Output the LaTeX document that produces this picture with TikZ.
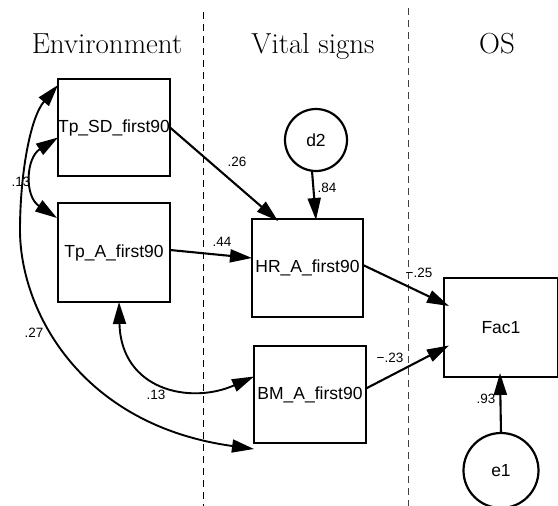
\documentclass[tikz,border=0pt]{standalone}
\usepackage{fontspec}
\newfontfamily\labelfont{Liberation Sans}
\usetikzlibrary{arrows.meta}

\begin{document}
\begin{tikzpicture}[x=1pt, y=-1pt,
  tip/.tip={Triangle[length=22pt, width=13pt]},
  var/.style={draw, line width=2.2pt, rectangle, inner sep=0pt, outer sep=0pt,
    font=\labelfont\fontsize{17.5}{19}\selectfont},
  err/.style={draw, line width=2.2pt, circle, inner sep=0pt, outer sep=0pt,
    font=\labelfont\fontsize{17.5}{19}\selectfont},
  causal/.style={line width=2.1pt, -tip},
  covar/.style={line width=1.9pt, tip-tip},
  coef/.style={font=\labelfont\fontsize{13.5}{14}\selectfont, inner sep=0pt},
  head/.style={font=\fontsize{29}{32}\selectfont, anchor=base, inner sep=0pt},
  divider/.style={line width=1pt, dash pattern=on 7pt off 5pt}
]
\useasboundingbox (0,0) rectangle (558,506);
\clip (0,0) rectangle (558,506);

% column headings and dividers
\node[head] (hEnv) at (107,53) {Environment};
\node[head] (hVit) at (313,53) {Vital signs};
\node[head] (hOS)  at (497,53) {OS};
\coordinate (d1top) at (203,12);  \coordinate (d1bot) at (203,506);
\coordinate (d2top) at (408,8);   \coordinate (d2bot) at (408,506);
\draw[divider] (d1top) -- (d1bot);
\draw[divider, draw=black!75] (d2top) -- (d2bot);

% observed variables
\node[var, minimum width=112pt, minimum height=97pt] (tpsd) at (114,127.5) {Tp\_SD\_first90};
\node[var, minimum width=112pt, minimum height=99pt] (tpa)  at (114,252.5) {Tp\_A\_first90};
\node[var, minimum width=111pt, minimum height=98pt] (hr)   at (307.5,268) {HR\_A\_first90};
\node[var, minimum width=112pt, minimum height=97pt] (bm)   at (310,394.5) {BM\_A\_first90};
\node[var, minimum width=114pt, minimum height=99pt] (fac)  at (501,327.5) {Fac1};

% error terms
\node[err, minimum size=62pt] (d2) at (316,140) {d2};
\node[err, minimum size=75pt] (e1) at (501,470.5) {e1};

% paths
\draw[causal] (tpsd.east) -- ([xshift=26pt, yshift=-2pt]hr.north west);
\draw[causal] ([yshift=2.5pt]tpa.east) -- ([yshift=10pt]hr.west);
\draw[causal] ([xshift=-4pt]d2.south) -- ([xshift=8.5pt, yshift=-1pt]hr.north);
\draw[causal] ([yshift=3pt]hr.east) -- ([xshift=5pt, yshift=21.5pt]fac.west);
\draw[causal] ([yshift=6pt]bm.east) -- ([xshift=5pt, yshift=-18pt]fac.west);
\draw[causal] (e1.north) -- ([xshift=-1pt, yshift=4pt]fac.south);

% covariances
\draw[covar] ([yshift=-10pt]tpsd.west) .. controls (26,158) and (24,196) .. ([xshift=-1pt, yshift=34.5pt]tpa.west);
\draw[covar] ([yshift=-6pt]tpsd.north west) .. controls (30,118) and (20,175) .. (20,230)
  .. controls (20,310) and (80,425) .. ([yshift=-6pt]bm.south west);
\draw[covar] ([xshift=5pt]tpa.south) .. controls (121,390) and (190,405) .. ([yshift=18pt]bm.west);

% coefficients
\node[coef] (c1) at (21,182)  {.13};
\node[coef] (c2) at (237,162) {.26};
\node[coef] (c3) at (222,242) {.44};
\node[coef] (c4) at (327,188) {.84};
\node[coef] (c5) at (34,333)  {.27};
\node[coef] (c6) at (156,395) {.13};
\node[coef] (c7) at (419,273) {−.25};
\node[coef] (c8) at (390,358) {−.23};
\node[coef] (c9) at (486,399) {.93};
\end{tikzpicture}
\end{document}
